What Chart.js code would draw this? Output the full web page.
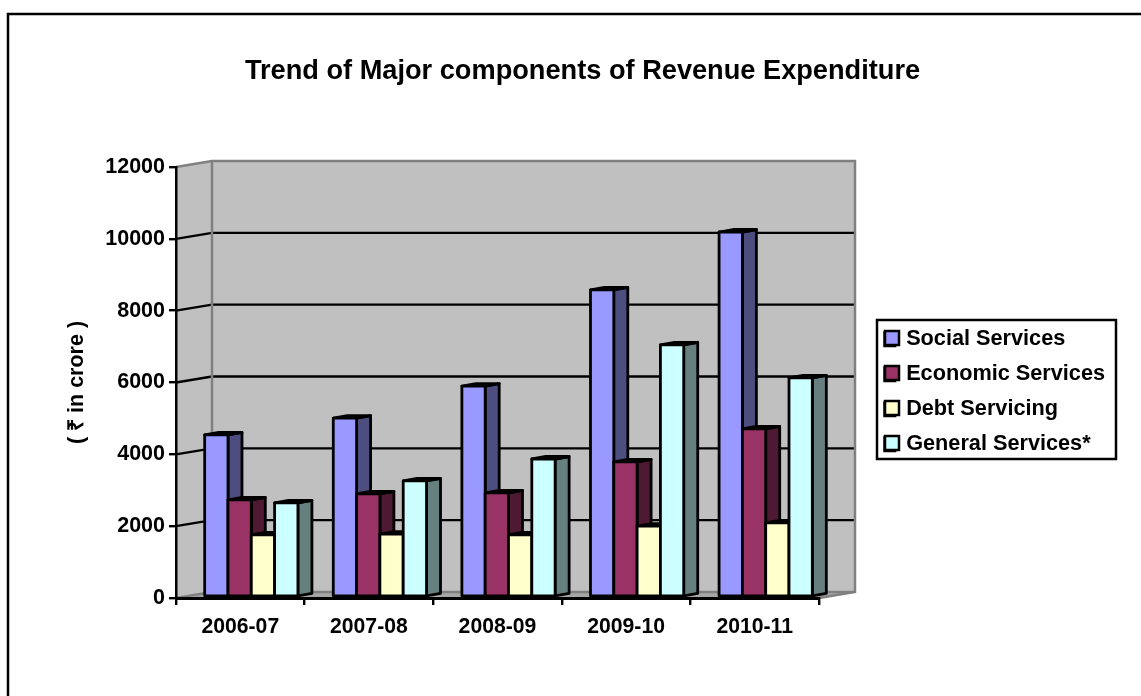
<!DOCTYPE html>
<html>
<head>
<meta charset="utf-8">
<title>Trend of Major components of Revenue Expenditure</title>
<script src="https://cdn.jsdelivr.net/npm/chart.js@4"></script>
<style>
    html, body { margin: 0; padding: 0; background: #fff; }
    #wrap { width: 1141px; height: 696px; }
</style>
</head>
<body>
<div id="wrap"><canvas id="myChart" width="1141" height="696"></canvas></div>
<script>
const years = ["2006-07", "2007-08", "2008-09", "2009-10", "2010-11"];
const socialServices = [4540, 5010, 5900, 8580, 10190];
const economicServices = [2730, 2900, 2925, 3790, 4710];
const debtServicing = [1755, 1780, 1755, 2000, 2090];
const generalServices = [2650, 3260, 3870, 7050, 6130];

const frontColors = ["#9999FF", "#993366", "#FFFFCC", "#CCFFFF"];
const sideColors = ["#4D4D80", "#4D1933", "#808066", "#668080"];
const topColors = ["#7A7ACC", "#7A2952", "#CCCCA3", "#A3CCCC"];

const fontName = "'Liberation Sans', Arial, sans-serif";

// depth of the 3d walls and of the bars, in px
const wallX = 36, wallY = -6;
const barX = 14, barY = -2.5, barShift = 11;

function poly(ctx, pts, fill, stroke, lw) {
    ctx.beginPath();
    pts.forEach((p, i) => i ? ctx.lineTo(p[0], p[1]) : ctx.moveTo(p[0], p[1]));
    ctx.closePath();
    if (fill) { ctx.fillStyle = fill; ctx.fill(); }
    if (stroke) { ctx.strokeStyle = stroke; ctx.lineWidth = lw; ctx.stroke(); }
}

const walls = {
    id: "walls",
    beforeDraw(chart) {
        const { ctx, chartArea: a, scales: { y } } = chart;
        ctx.save();
        // outer frame, only top and left show
        ctx.strokeStyle = "#000";
        ctx.lineWidth = 2.5;
        ctx.beginPath();
        ctx.moveTo(8, 696);
        ctx.lineTo(8, 14);
        ctx.lineTo(1141, 14);
        ctx.stroke();

        // legend frame
        ctx.strokeRect(877, 320, 239, 139);

        const gray = "#808080";
        // floor, side wall, back wall
        poly(ctx, [[a.left, a.bottom], [a.left + wallX, a.bottom + wallY], [a.right + wallX, a.bottom + wallY], [a.right, a.bottom]], "#A6A6A6");
        poly(ctx, [[a.left, a.top], [a.left + wallX, a.top + wallY], [a.left + wallX, a.bottom + wallY], [a.left, a.bottom]], "#C0C0C0");
        ctx.fillStyle = "#C0C0C0";
        ctx.fillRect(a.left + wallX, a.top + wallY, a.right - a.left, a.bottom - a.top);

        y.ticks.forEach(t => {
            const py = y.getPixelForValue(t.value);
            if (t.value === 0 || t.value === y.max) return;
            ctx.strokeStyle = "#000";
            ctx.lineWidth = 2.4;
            ctx.beginPath();
            ctx.moveTo(a.left, py);
            ctx.lineTo(a.left + wallX, py + wallY);
            ctx.lineTo(a.right + wallX, py + wallY);
            ctx.stroke();
        });

        ctx.strokeStyle = gray;
        ctx.lineWidth = 2.5;
        ctx.beginPath();
        ctx.moveTo(a.left, a.top);
        ctx.lineTo(a.left + wallX, a.top + wallY);
        ctx.lineTo(a.right + wallX, a.top + wallY);
        ctx.lineTo(a.right + wallX, a.bottom + wallY);
        ctx.lineTo(a.right, a.bottom);
        ctx.moveTo(a.left + wallX, a.top + wallY);
        ctx.lineTo(a.left + wallX, a.bottom + wallY);
        ctx.lineTo(a.right + wallX, a.bottom + wallY);
        ctx.moveTo(a.left + wallX, a.bottom + wallY);
        ctx.lineTo(a.left, a.bottom);
        ctx.stroke();
        ctx.restore();
    }
};

const bars3d = {
    id: "bars3d",
    // bars go left to right so each one covers the side of the one before
    beforeDatasetsDraw(chart) {
        const { ctx } = chart;
        ctx.save();
        ctx.lineJoin = "round";
        years.forEach((_, c) => {
            chart.data.datasets.forEach((ds, d) => {
                const bar = chart.getDatasetMeta(d).data[c];
                const l = bar.x - bar.width / 2 + barShift;
                const r = bar.x + bar.width / 2 + barShift;
                const t = bar.y, b = bar.base - 1;
                poly(ctx, [[r, t], [r + barX, t + barY], [r + barX, b + barY], [r, b]], sideColors[d], "#000", 2.8);
                poly(ctx, [[l, t], [l + barX, t + barY], [r + barX, t + barY], [r, t]], topColors[d], "#000", 2.8);
                poly(ctx, [[l, t], [r, t], [r, b], [l, b]], frontColors[d], "#000", 2.8);
            });
        });
        ctx.restore();
        return false;
    }
};

const movedBoxes = {
    id: "movedBoxes",
    // legend sits in the chart area by default, move it out to the right
    afterLayout(chart) {
        const lg = chart.legend;
        lg.left = 871; lg.right = 1116;
        lg.top = 315; lg.bottom = 560;
        chart.titleBlock.left = 200;
        chart.titleBlock.right = 965;
    },
    // chart.js keeps a wide gap after the swatch, so the swatch is small there and redrawn here
    afterDraw(chart) {
        const { ctx } = chart;
        ctx.save();
        seriesNames.forEach((_, i) => {
            const top = 331 + i * 35;
            ctx.fillStyle = frontColors[i];
            ctx.strokeStyle = "#000";
            ctx.lineWidth = 2.5;
            ctx.fillRect(885, top, 14, 14);
            ctx.strokeRect(885, top, 14, 14);
        });
        ctx.restore();
    }
};

const datasetList = [socialServices, economicServices, debtServicing, generalServices];
const seriesNames = ["Social Services", "Economic Services", "Debt Servicing", "General Services*"];

new Chart(document.getElementById("myChart"), {
    type: "bar",
    data: {
        labels: years,
        datasets: datasetList.map((vals, i) => ({
            label: seriesNames[i],
            data: vals,
            backgroundColor: frontColors[i],
            borderColor: "#000",
            borderWidth: 2
        }))
    },
    plugins: [movedBoxes, walls, bars3d],
    options: {
        responsive: false,
        animation: false,
        layout: { padding: { left: 64, top: 50, right: 322, bottom: 40 } },
        datasets: { bar: { barPercentage: 1, categoryPercentage: 0.725 } },
        plugins: {
            tooltip: { enabled: false },
            title: {
                display: true,
                text: "Trend of Major components of Revenue Expenditure",
                color: "#000",
                font: { family: fontName, size: 27.2, weight: "bold", lineHeight: 1 },
                padding: { top: 8, bottom: 81.8 }
            },
            legend: {
                position: "chartArea",
                align: "start",
                onClick: null,
                labels: {
                    color: "#000",
                    font: { family: fontName, size: 21.7, weight: "bold" },
                    boxWidth: 11,
                    boxHeight: 14,
                    padding: 13.3
                }
            }
        },
        scales: {
            x: {
                grid: { display: true, drawOnChartArea: false, color: "#000", lineWidth: 2.4, tickLength: 7 },
                border: { color: "#000", width: 3 },
                ticks: { color: "#000", padding: 9, maxRotation: 0, font: { family: fontName, size: 21.2, weight: "bold" } },
                afterFit(s) { s.height = 58; }
            },
            y: {
                min: 0,
                max: 12000,
                grid: { drawOnChartArea: false, color: "#000", lineWidth: 2.4, tickLength: 7 },
                border: { color: "#000", width: 2.5 },
                ticks: { stepSize: 2000, color: "#000", padding: 4, callback: v => v, font: { family: fontName, size: 21.5, weight: "bold" } },
                title: {
                    display: true,
                    text: "( ₹ in crore )",
                    color: "#000",
                    font: { family: fontName, size: 21.5, weight: "bold" },
                    padding: 0
                },
                afterFit(s) { s.width = 112; }
            }
        }
    }
});
</script>
</body>
</html>
